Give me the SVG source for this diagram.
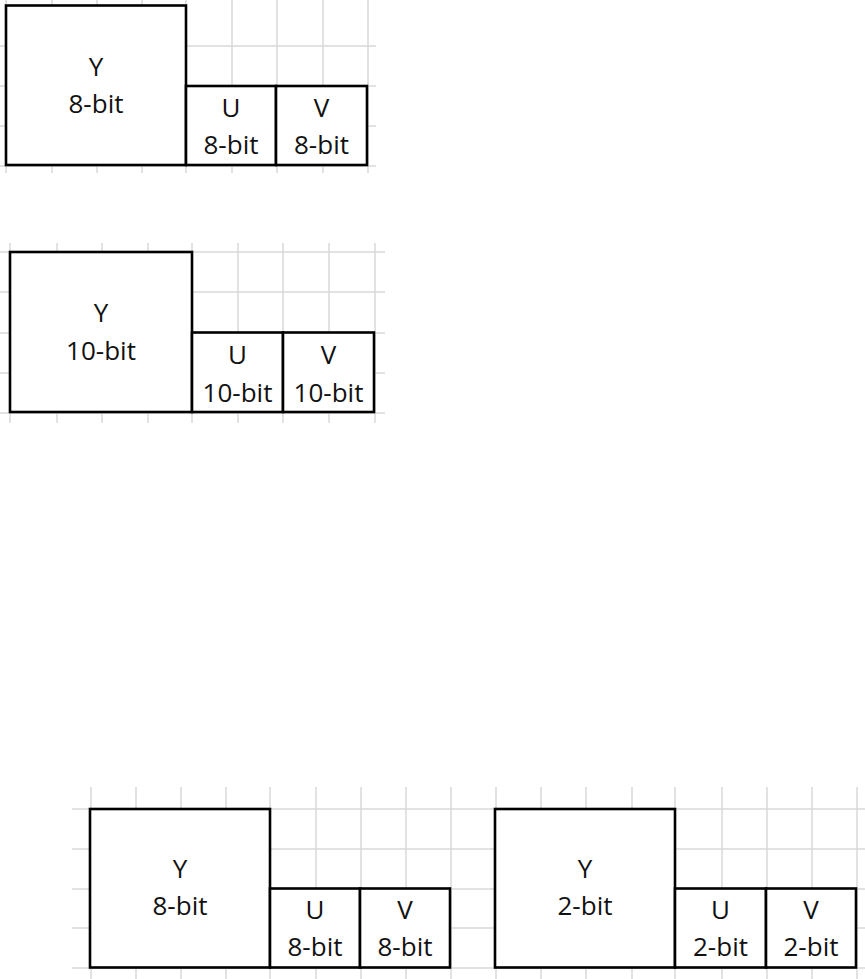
<svg xmlns="http://www.w3.org/2000/svg" width="865" height="979" viewBox="0 0 865 979">
<style>
.g{stroke:#d9d9d9;stroke-width:1.5;fill:none}
.b{fill:#fff;stroke:#000;stroke-width:2.6}
text{font-family:"Open Sans","Noto Sans","Liberation Sans",sans-serif;font-size:26px;fill:#111;text-anchor:middle}
</style>
<rect width="865" height="979" fill="#fff"/>
<g id="grid1" class="g">
<path d="M52 0V173M97 0V173M142 0V173M186 0V173M232 0V173M277 0V173M323 0V173M368 0V173M6 0V173"/>
<path d="M0 46H376M0 86H376M0 126H376M0 166H376"/>
</g>
<g id="grid2" class="g">
<path d="M10 243V423M57 243V423M102 243V423M148 243V423M192 243V423M238 243V423M283 243V423M329 243V423M375 243V423"/>
<path d="M0 252H385M0 292H385M0 333H385M0 373H385M0 413H385"/>
</g>
<g id="grid3" class="g">
<path d="M91 787V979M136 787V979M181 787V979M226 787V979M270 787V979M316 787V979M361 787V979M406 787V979M451 787V979M496 787V979M541 787V979M586 787V979M632 787V979M675 787V979M722 787V979M767 787V979M812 787V979M857 787V979"/>
<path d="M72 809H865M72 849H865M72 889H865M72 928H865M72 968H865"/>
</g>
<g id="y1"><rect class="b" x="6" y="5.5" width="180" height="159.5"/><text x="96" y="76">Y</text><text x="96" y="113">8-bit</text></g>
<g id="u1"><rect class="b" x="186" y="86" width="90" height="79"/><text x="231" y="117">U</text><text x="231" y="154">8-bit</text></g>
<g id="v1"><rect class="b" x="276" y="86" width="91" height="79"/><text x="321.5" y="117">V</text><text x="321.5" y="154">8-bit</text></g>
<g id="y2"><rect class="b" x="10" y="252" width="182" height="160"/><text x="101" y="322">Y</text><text x="101" y="360">10-bit</text></g>
<g id="u2"><rect class="b" x="192" y="332.5" width="91" height="79.5"/><text x="237.5" y="364">U</text><text x="237.5" y="402">10-bit</text></g>
<g id="v2"><rect class="b" x="283" y="332.5" width="91" height="79.5"/><text x="328.5" y="364">V</text><text x="328.5" y="402">10-bit</text></g>
<g id="y3"><rect class="b" x="90" y="809" width="180" height="158.5"/><text x="180" y="878">Y</text><text x="180" y="915">8-bit</text></g>
<g id="u3"><rect class="b" x="270" y="888.5" width="90" height="79"/><text x="315" y="919">U</text><text x="315" y="956">8-bit</text></g>
<g id="v3"><rect class="b" x="360" y="888.5" width="90" height="79"/><text x="405" y="919">V</text><text x="405" y="956">8-bit</text></g>
<g id="y4"><rect class="b" x="495" y="809" width="180" height="158.5"/><text x="585" y="878">Y</text><text x="585" y="915">2-bit</text></g>
<g id="u4"><rect class="b" x="675" y="888.5" width="91" height="79"/><text x="720.5" y="919">U</text><text x="720.5" y="956">2-bit</text></g>
<g id="v4"><rect class="b" x="766" y="888.5" width="90" height="79"/><text x="811" y="919">V</text><text x="811" y="956">2-bit</text></g>
</svg>
